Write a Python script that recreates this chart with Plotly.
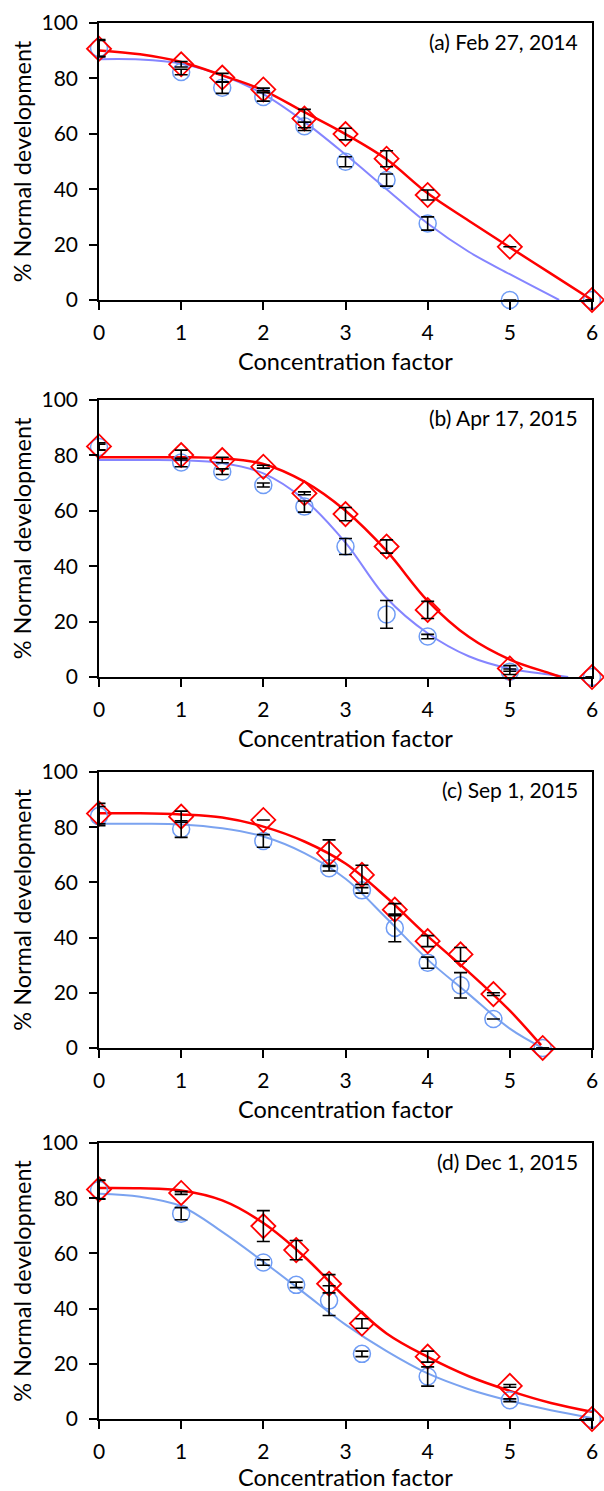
import plotly.graph_objects as go

# ---------------- data ----------------
# panel (a) Feb 27, 2014
a_x = [0, 1, 1.5, 2, 2.5, 3, 3.5, 4, 5, 6]
a_red = [90.7, 85.1, 80.3, 76.0, 65.5, 59.9, 51.0, 37.9, 19.2, 0]
a_red_err = [3.0, 1.0, 1.5, 0.5, 3.3, 2.1, 2.9, 1.8, 0, 0]
a_blue = [91.0, 82.3, 76.6, 73.3, 62.7, 49.9, 43.3, 27.6, 0, 0]
a_blue_err = [3.0, 1.0, 2.0, 1.5, 1.5, 1.8, 2.2, 2.4, 0, 0]
a_fit_x = [0, 0.5, 1, 1.5, 2, 2.5, 3, 3.5, 4, 4.5, 5, 5.5, 6]
a_fit_red = [90.1, 88.7, 85.9, 81.1, 75.7, 67.8, 59.9, 50.8, 38.5, 28.6, 19.0, 9.5, 0]
a_fit_bx = [0, 0.5, 1, 1.5, 2, 2.5, 3, 3.5, 4, 4.5, 5, 5.6]
a_fit_blue = [86.9, 86.8, 85.3, 81.1, 74.3, 64.3, 52.5, 40.0, 27.6, 17.4, 9.3, 0]

# panel (b) Apr 17, 2015
b_x = [0, 1, 1.5, 2, 2.5, 3, 3.5, 4, 5, 6]
b_red = [83.2, 80.1, 78.3, 75.9, 66.3, 58.8, 47.1, 24.2, 3.1, 0]
b_red_err = [1.3, 1.8, 1.0, 0.5, 0.5, 2.4, 2.4, 3.1, 1.0, 0]
b_blue = [83.0, 77.4, 74.1, 69.3, 61.5, 47.1, 22.6, 14.6, 1.9, 0]
b_blue_err = [1.0, 1.5, 1.0, 0.7, 2.0, 2.9, 5.0, 0.8, 1.0, 0]
b_fit_x = [0, 0.5, 1, 1.5, 2, 2.5, 3, 3.5, 4, 4.5, 5, 5.5, 5.62]
b_fit_red = [79.3, 79.3, 79.3, 78.9, 76.9, 70.5, 60.0, 45.5, 27.5, 14.5, 6.3, 1.2, 0]
b_fit_bx = [0, 0.5, 1, 1.5, 2, 2.5, 3, 3.5, 4, 4.5, 5, 5.5, 5.71]
b_fit_blue = [78.3, 78.3, 78.2, 77.2, 73.5, 64.0, 48.5, 28.5, 15.8, 7.5, 3.0, 0.8, 0]

# panel (c) Sep 1, 2015
c_x = [0, 1, 2, 2.8, 3.2, 3.6, 4, 4.4, 4.8, 5.4]
c_red = [84.9, 83.8, 82.6, 70.6, 62.7, 50.1, 38.7, 33.9, 19.5, 0]
c_red_err = [3.7, 2.0, 0, 4.8, 3.5, 2.2, 2.0, 2.5, 0.5, 0]
c_blue = [84.0, 79.3, 75.0, 65.1, 57.1, 43.5, 30.9, 22.7, 10.5, 0]
c_blue_err = [3.5, 3.0, 2.3, 1.0, 1.0, 5.0, 2.0, 4.6, 0, 0]
c_fit_x = [0, 0.5, 1, 1.5, 2, 2.5, 3, 3.5, 4, 4.5, 5, 5.38]
c_fit_red = [85.0, 85.0, 84.6, 83.5, 80.2, 74.8, 66.8, 54.5, 40.5, 27.5, 13.5, 1.0]
c_fit_bx = [0, 0.5, 1, 1.5, 2, 2.5, 3, 3.5, 4, 4.5, 5, 5.4]
c_fit_blue = [81.2, 81.2, 81.0, 79.6, 76.6, 70.6, 61.3, 47.0, 32.0, 19.5, 7.0, 0]

# panel (d) Dec 1, 2015
d_x = [0, 1, 2, 2.4, 2.8, 3.2, 4, 5, 6]
d_red = [83.2, 81.9, 69.9, 61.2, 49.0, 34.6, 22.6, 12.0, 0]
d_red_err = [3.4, 0.5, 5.6, 3.5, 3.3, 1.7, 2.0, 0.5, 0]
d_blue = [83.0, 74.4, 56.7, 48.6, 42.9, 23.6, 15.4, 6.8, 0]
d_blue_err = [3.4, 2.2, 1.0, 1.0, 5.4, 1.0, 3.5, 0.5, 0]
d_fit_x = [0, 0.5, 1, 1.5, 2, 2.5, 3, 3.5, 4, 4.5, 5, 5.5, 6]
d_fit_red = [83.7, 83.6, 82.8, 79.2, 71.0, 58.8, 44.0, 31.0, 22.5, 15.5, 10.2, 5.8, 2.6]
d_fit_bx = [0, 0.5, 1, 1.5, 2, 2.5, 3, 3.5, 4, 4.5, 5, 5.5, 6]
d_fit_blue = [81.6, 80.5, 77.1, 67.8, 57.0, 45.6, 34.2, 24.6, 16.5, 10.8, 6.6, 3.2, 0.4]

panel_labels = ["(a) Feb 27, 2014", "(b) Apr 17, 2015", "(c) Sep 1, 2015", "(d) Dec 1, 2015"]
x_ticks = [0, 1, 2, 3, 4, 5, 6]
y_ticks = [0, 20, 40, 60, 80, 100]

# ---------------- styling ----------------
RED = "#ff0000"
CIRCLE = "#6f9cf5"
BLUE_LINES = ["#8585ff", "#8585ff", "#7ba3f0", "#7ba3f0"]
FONT = "Lato"

panels = [
    (a_x, a_red, a_red_err, a_blue, a_blue_err, a_fit_x, a_fit_red, a_fit_bx, a_fit_blue),
    (b_x, b_red, b_red_err, b_blue, b_blue_err, b_fit_x, b_fit_red, b_fit_bx, b_fit_blue),
    (c_x, c_red, c_red_err, c_blue, c_blue_err, c_fit_x, c_fit_red, c_fit_bx, c_fit_blue),
    (d_x, d_red, d_red_err, d_blue, d_blue_err, d_fit_x, d_fit_red, d_fit_bx, d_fit_blue),
]

# vertical domains (paper fractions) of the four panels, top to bottom
domains = [[0.8016, 1.0], [0.5315, 0.7300], [0.2658, 0.4635], [0.0, 0.1977]]

fig = go.Figure()
layout_axes = {}
annotations = []

for i, (px, red, red_err, blue, blue_err, fx, fred, fbx, fblue) in enumerate(panels):
    k = i + 1
    xa = "x" if k == 1 else f"x{k}"
    ya = "y" if k == 1 else f"y{k}"
    common = dict(xaxis=xa, yaxis=ya, showlegend=False, cliponaxis=False, hoverinfo="skip")

    fig.add_trace(go.Scatter(x=fbx, y=fblue, mode="lines",
                             line=dict(color=BLUE_LINES[i], width=2, shape="spline"), **common))
    fig.add_trace(go.Scatter(x=fx, y=fred, mode="lines",
                             line=dict(color=RED, width=2.5, shape="spline"), **common))
    fig.add_trace(go.Scatter(x=px, y=blue, mode="markers",
                             marker=dict(symbol="circle-open", size=17, color=CIRCLE,
                                         line=dict(width=1.5, color=CIRCLE)), **common))
    fig.add_trace(go.Scatter(x=px, y=red, mode="markers",
                             marker=dict(symbol="diamond-open", size=18.5, color=RED,
                                         line=dict(width=1.8, color=RED)), **common))
    for vals, errs in ((blue, blue_err), (red, red_err)):
        fig.add_trace(go.Scatter(x=px, y=vals, mode="markers",
                                 marker=dict(size=2, color="rgba(0,0,0,0)"),
                                 error_y=dict(type="data", array=errs, visible=True,
                                              color="black", thickness=1.6, width=6.5),
                                 **common))

    axis_common = dict(showline=True, linecolor="black", linewidth=1.5, mirror=True,
                       ticks="outside", ticklen=8, tickwidth=1.5, tickcolor="black",
                       showgrid=False, zeroline=False,
                       tickfont=dict(family=FONT, size=21, color="black"))
    layout_axes["xaxis" if k == 1 else f"xaxis{k}"] = dict(
        axis_common, domain=[0, 1], anchor=ya, range=[0, 6], tickvals=x_ticks,
        ticklabelstandoff=5,
        title=dict(text="Concentration factor", standoff=11,
                   font=dict(family=FONT, size=23.5, color="black")))
    layout_axes["yaxis" if k == 1 else f"yaxis{k}"] = dict(
        axis_common, domain=domains[i], anchor=xa, range=[0, 100], tickvals=y_ticks,
        ticklabelstandoff=7,
        title=dict(text="% Normal development", standoff=3,
                   font=dict(family=FONT, size=23.5, color="black")))
    annotations.append(dict(text=panel_labels[i], showarrow=False,
                            xref=f"{xa} domain", yref=f"{ya} domain", x=1, y=1,
                            xanchor="right", yanchor="middle", xshift=-12, yshift=-18,
                            font=dict(family=FONT, size=21, color="black")))

fig.update_layout(
    width=604, height=1491,
    margin=dict(l=99, r=12, t=23, b=72, autoexpand=False),
    paper_bgcolor="white", plot_bgcolor="white",
    font=dict(family=FONT, color="black"),
    annotations=annotations,
    **layout_axes,
)

fig.write_html("out.html")
